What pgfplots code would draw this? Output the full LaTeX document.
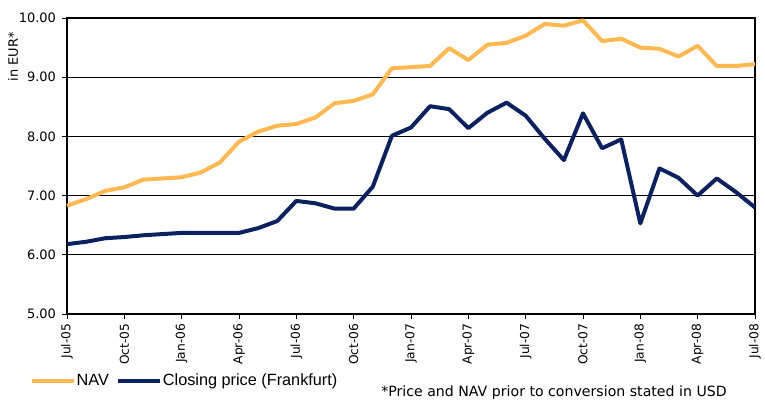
\documentclass[border=0pt]{standalone}
\usepackage{fontspec}
\setmainfont{DejaVu Sans}
\newfontfamily\legfont{Liberation Sans}
\usepackage{pgfplots}
\pgfplotsset{compat=1.18}
\definecolor{navorange}{RGB}{255,185,80}
\definecolor{closenavy}{RGB}{12,33,96}
\begin{document}
\begin{tikzpicture}
\useasboundingbox (-50.25pt,-66.75pt) rectangle (523.5pt,235.5pt);
\begin{axis}[
  scale only axis,
  width=516pt, height=222pt,
  xmin=0, xmax=36, ymin=5, ymax=10,
  xtick={0,3,...,36},
  xticklabels={Jul-05,Oct-05,Jan-06,Apr-06,Jul-06,Oct-06,Jan-07,Apr-07,Jul-07,Oct-07,Jan-08,Apr-08,Jul-08},
  ytick={5,6,7,8,9,10},
  yticklabel={\pgfmathprintnumber[fixed,fixed zerofill,precision=2]{\tick}},
  /pgf/number format/assume math mode=true,
  tick align=outside,
  major tick length=3.75pt,
  xtick pos=bottom, ytick pos=left,
  ymajorgrids,
  grid style={black, line width=0.6pt},
  axis line style={black, line width=0.8pt},
  tick style={black, line width=0.6pt},
  yticklabel style={font=\fontsize{9.7}{11}\selectfont, xshift=-1pt},
  xticklabel style={font=\fontsize{9.2}{11}\selectfont, rotate=90, anchor=east},
  ylabel={in EUR*},
  ylabel style={at={(-40.5/516,{1-29/222})}, anchor=center, font=\fontsize{9.7}{11}\selectfont},
  legend columns=2,
  legend style={at={(0,0)}, anchor=west, xshift=-27.75pt, yshift=-50.25pt,
    draw=none, fill=none, inner sep=0pt, outer sep=0pt,
    font=\legfont\fontsize{12.2}{14}\selectfont,
    nodes={inner sep=0.5pt},
    /tikz/every odd column/.append style={column sep=0pt},
    /tikz/every even column/.append style={column sep=5pt}},
  legend image code/.code={\draw[#1] (0pt,0pt) -- (31.5pt,0pt);},
  clip=false,
]
\addplot[navorange, line width=3pt, line join=round] coordinates {
(0,6.83)(1,6.94)(2,7.08)(3,7.14)(4,7.27)(5,7.29)(6,7.31)(7,7.39)(8,7.56)(9,7.91)
(10,8.08)(11,8.18)(12,8.21)(13,8.32)(14,8.56)(15,8.60)(16,8.71)(17,9.15)(18,9.17)(19,9.19)
(20,9.49)(21,9.29)(22,9.55)(23,9.58)(24,9.70)(25,9.90)(26,9.87)(27,9.96)(28,9.61)(29,9.65)
(30,9.50)(31,9.48)(32,9.35)(33,9.53)(34,9.19)(35,9.19)(36,9.22)};
\addlegendentry{NAV}
\addplot[closenavy, line width=3pt, line join=round] coordinates {
(0,6.18)(1,6.22)(2,6.28)(3,6.30)(4,6.33)(5,6.35)(6,6.37)(7,6.37)(8,6.37)(9,6.37)
(10,6.45)(11,6.57)(12,6.91)(13,6.87)(14,6.78)(15,6.78)(16,7.15)(17,8.01)(18,8.15)(19,8.51)
(20,8.46)(21,8.14)(22,8.40)(23,8.57)(24,8.35)(25,7.96)(26,7.60)(27,8.39)(28,7.80)(29,7.95)
(30,6.53)(31,7.46)(32,7.30)(33,7.00)(34,7.29)(35,7.06)(36,6.80)};
\addlegendentry{Closing price (Frankfurt)}
\end{axis}
\node[anchor=west, inner sep=0pt, font=\fontsize{10.6}{12}\selectfont] at (235.5pt,-59.25pt) {*Price and NAV prior to conversion stated in USD};
\end{tikzpicture}
\end{document}
